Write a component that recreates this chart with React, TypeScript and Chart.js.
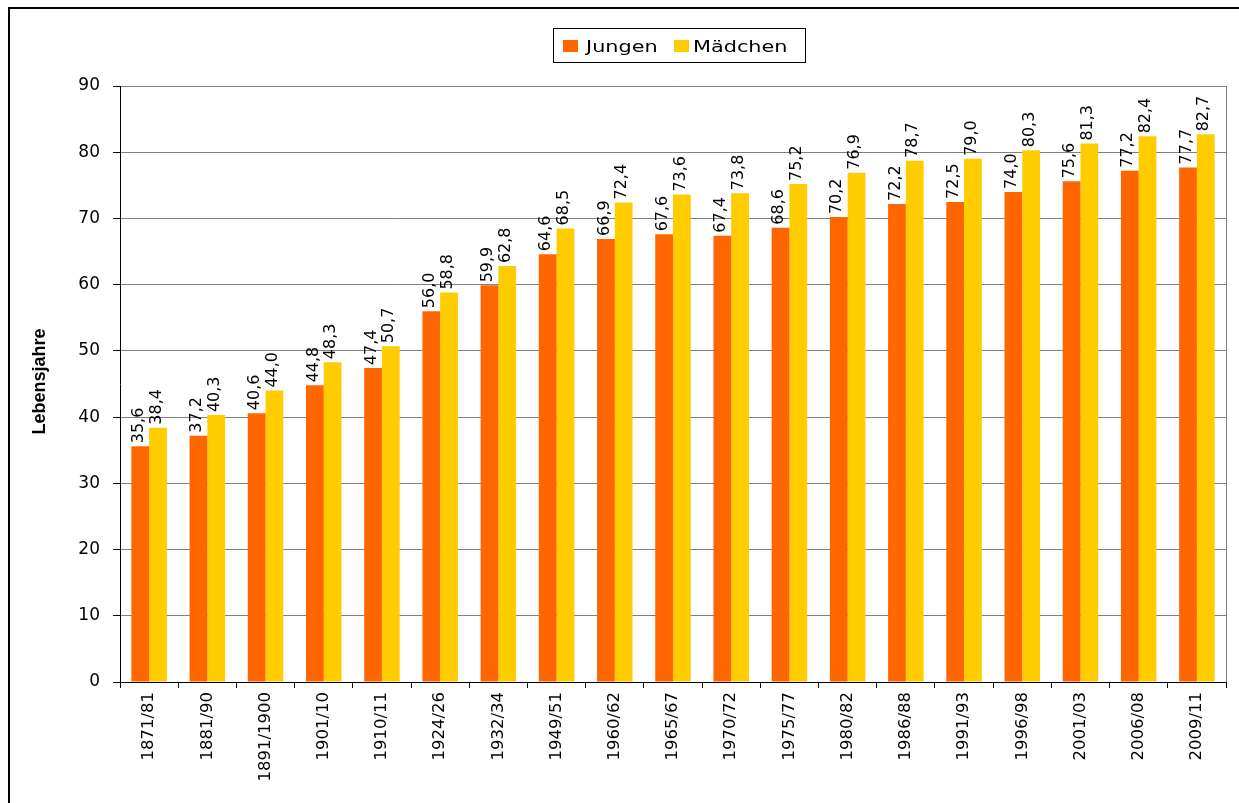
import React, { useEffect, useRef } from "react";
import { Chart, registerables } from "chart.js";

Chart.register(...registerables);

const categories = [
  "1871/81", "1881/90", "1891/1900", "1901/10", "1910/11", "1924/26", "1932/34",
  "1949/51", "1960/62", "1965/67", "1970/72", "1975/77", "1980/82", "1986/88",
  "1991/93", "1996/98", "2001/03", "2006/08", "2009/11",
];

const jungen = [35.6, 37.2, 40.6, 44.8, 47.4, 56.0, 59.9, 64.6, 66.9, 67.6, 67.4, 68.6, 70.2, 72.2, 72.5, 74.0, 75.6, 77.2, 77.7];
const maedchen = [38.4, 40.3, 44.0, 48.3, 50.7, 58.8, 62.8, 68.5, 72.4, 73.6, 73.8, 75.2, 76.9, 78.7, 79.0, 80.3, 81.3, 82.4, 82.7];

const seriesNames = ["Jungen", "Mädchen"];
const yAxisTitle = "Lebensjahre";
const yMin = 0;
const yMax = 90;
const yStep = 10;

const COLORS = ["#FF6600", "#FFCC00"];
const FONT = "'DejaVu Sans', Verdana, sans-serif";

const fmt = (v: number) => v.toFixed(1).replace(".", ",");

const decorPlugin = {
  id: "decor",
  beforeDraw(chart: any) {
    const ctx = chart.ctx;
    ctx.save();
    ctx.fillStyle = "#ffffff";
    ctx.fillRect(0, 0, chart.width, chart.height);
    ctx.restore();
  },
  afterDatasetsDraw(chart: any) {
    const ctx = chart.ctx;
    ctx.save();
    ctx.fillStyle = "#000";
    ctx.font = `16px ${FONT}`;
    ctx.textAlign = "left";
    ctx.textBaseline = "middle";
    chart.data.datasets.forEach((ds: any, di: number) => {
      const meta = chart.getDatasetMeta(di);
      meta.data.forEach((bar: any, i: number) => {
        const txt = fmt(ds.data[i]);
        ctx.save();
        ctx.translate(bar.x - 1.5, bar.y - 3);
        ctx.rotate(-Math.PI / 2);
        ctx.fillText(txt, 0, 0);
        ctx.restore();
      });
    });
    ctx.restore();
  },
  afterDraw(chart: any) {
    const ctx = chart.ctx;
    const a = chart.chartArea;
    ctx.save();
    // plot area right border
    ctx.strokeStyle = "#808080";
    ctx.lineWidth = 1;
    ctx.beginPath();
    ctx.moveTo(Math.round(a.right) + 0.5, a.top);
    ctx.lineTo(Math.round(a.right) + 0.5, a.bottom);
    ctx.stroke();

    // outer frame (left and top)
    ctx.strokeStyle = "#000";
    ctx.lineWidth = 2;
    ctx.beginPath();
    ctx.moveTo(9, chart.height + 2);
    ctx.lineTo(9, 8);
    ctx.lineTo(chart.width + 2, 8);
    ctx.stroke();

    // legend
    ctx.lineWidth = 1;
    ctx.strokeStyle = "#000";
    ctx.strokeRect(553.5, 28.5, 252, 34);
    const keys = [
      { kx: 563, tx: 586 },
      { kx: 674, tx: 693 },
    ];
    ctx.font = `16px ${FONT}`;
    ctx.textBaseline = "alphabetic";
    ctx.textAlign = "left";
    keys.forEach((k, i) => {
      ctx.fillStyle = COLORS[i];
      ctx.fillRect(k.kx, 40, 15, 12);
      ctx.fillStyle = "#000";
      ctx.save();
      ctx.translate(k.tx, 52);
      ctx.scale(1.3, 1);
      ctx.fillText(seriesNames[i], 0, 0);
      ctx.restore();
    });

    // y axis title
    ctx.save();
    ctx.translate(40, 381.5);
    ctx.rotate(-Math.PI / 2);
    ctx.font = `bold 18px 'Liberation Sans', Arial, sans-serif`;
    ctx.textAlign = "center";
    ctx.textBaseline = "middle";
    ctx.fillStyle = "#000";
    ctx.fillText(yAxisTitle, 0, 0);
    ctx.restore();

    ctx.restore();
  },
};

export default function App() {
  const ref = useRef<HTMLCanvasElement | null>(null);

  useEffect(() => {
    if (!ref.current) return;
    const chart = new Chart(ref.current, {
      type: "bar",
      data: {
        labels: categories,
        datasets: [
          {
            label: seriesNames[0],
            data: jungen,
            backgroundColor: COLORS[0],
            borderWidth: 0,
            categoryPercentage: 0.61,
            barPercentage: 1,
          },
          {
            label: seriesNames[1],
            data: maedchen,
            backgroundColor: COLORS[1],
            borderWidth: 0,
            categoryPercentage: 0.61,
            barPercentage: 1,
          },
        ],
      },
      options: {
        responsive: false,
        animation: false,
        devicePixelRatio: 1,
        layout: { padding: { top: 86, right: 13, left: 0, bottom: 0 } },
        plugins: {
          legend: { display: false },
          tooltip: { enabled: false },
          title: { display: false },
        },
        scales: {
          x: {
            grid: {
              offset: true,
              drawOnChartArea: false,
              drawTicks: true,
              tickLength: 6,
              tickColor: "#000",
            },
            border: { color: "#000", width: 1 },
            ticks: {
              color: "#000",
              font: { family: FONT, size: 16.5 },
              minRotation: 90,
              maxRotation: 90,
              padding: 4,
              autoSkip: false,
            },
            afterFit(scale: any) {
              scale.height = 121;
            },
          },
          y: {
            min: yMin,
            max: yMax,
            grid: {
              color: "#808080",
              lineWidth: 1,
              tickLength: 7,
              tickColor: "#000",
            },
            border: { color: "#000", width: 1 },
            ticks: {
              stepSize: yStep,
              color: "#000",
              font: { family: FONT, size: 17 },
              padding: 13,
            },
            afterFit(scale: any) {
              scale.width = 120;
            },
          },
        },
      },
      plugins: [decorPlugin],
    });
    return () => chart.destroy();
  }, []);

  return (
    <div style={{ position: "fixed", left: 0, top: 0, width: 1239, height: 803, background: "#fff" }}>
      <canvas ref={ref} width={1239} height={803} style={{ display: "block", width: 1239, height: 803 }} />
    </div>
  );
}
